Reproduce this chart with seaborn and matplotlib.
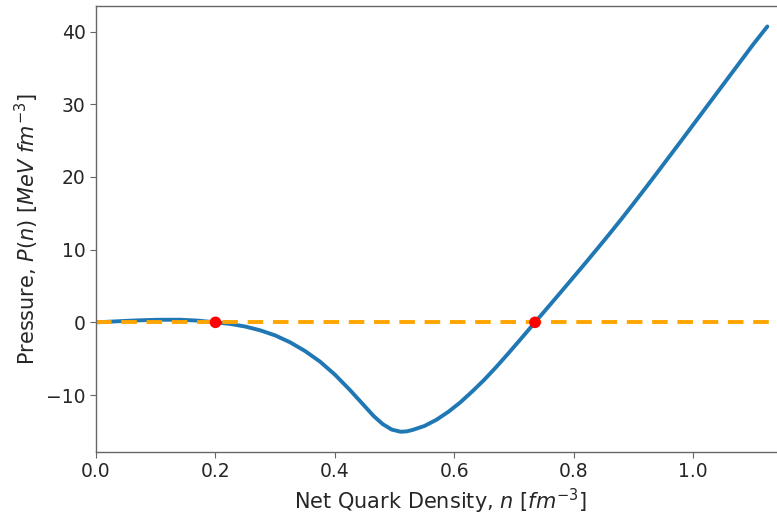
import matplotlib
matplotlib.use('Agg')
import matplotlib.pyplot as plt
import seaborn as sns
import pandas as pd

# values
n = [0.0, 0.03, 0.06, 0.10, 0.14, 0.17, 0.20, 0.225, 0.25, 0.275, 0.30, 0.325,
     0.35, 0.375, 0.40, 0.425, 0.45, 0.465, 0.48, 0.495, 0.51, 0.52, 0.53, 0.55,
     0.57, 0.59, 0.61, 0.63, 0.65, 0.67, 0.69, 0.71, 0.735, 0.76, 0.78, 0.80,
     0.82, 0.84, 0.86, 0.88, 0.90, 0.92, 0.94, 0.96, 0.98, 1.00, 1.02, 1.04,
     1.06, 1.08, 1.10, 1.124]
P = [0.0, 0.12, 0.24, 0.35, 0.36, 0.24, 0.0, -0.22, -0.58, -1.1, -1.8, -2.75,
     -3.95, -5.4, -7.2, -9.3, -11.55, -12.9, -14.0, -14.75, -15.05, -15.0, -14.8, -14.25,
     -13.4, -12.3, -11.0, -9.5, -7.9, -6.15, -4.3, -2.4, 0.0, 2.4, 4.33, 6.27,
     8.22, 10.2, 12.2, 14.25, 16.35, 18.48, 20.64, 22.82, 25.0, 27.2, 29.4, 31.6,
     33.8, 36.0, 38.2, 40.7]
roots_n = [0.2, 0.735]
roots_P = [0.0, 0.0]

df = pd.DataFrame({'n': n, 'P': P})
roots = pd.DataFrame({'n': roots_n, 'P': roots_P})

sns.set_style('white')
plt.rcParams['font.family'] = ['DejaVu Sans']

fig = plt.figure(figsize=(7.77, 5.16), dpi=100)
ax = fig.add_axes([0.1236, 0.124, 0.8855, 0.864])

sns.lineplot(data=df, x='n', y='P', ax=ax, color='#1f77b4', linewidth=2.8, sort=False)
ax.axhline(0, color='orange', linestyle='--', linewidth=2.8, dashes=(4, 2.5))
sns.scatterplot(data=roots, x='n', y='P', ax=ax, color='red', s=70, edgecolor='none', zorder=5)

ax.set_xlim(0, 1.152)
ax.set_xticks([0.0, 0.2, 0.4, 0.6, 0.8, 1.0])
ax.set_yticks([-10, 0, 10, 20, 30, 40])
ax.set_xlabel(r'Net Quark Density, $n$ $[fm^{-3}]$', fontsize=15)
ax.set_ylabel(r'Pressure, $P(n)$ $[MeV\ fm^{-3}]$', fontsize=15)
ax.tick_params(labelsize=13.5, length=4, color='0.4', left=True, bottom=True)
for s in ax.spines.values():
    s.set_color('0.4')
    s.set_linewidth(1.0)

fig.savefig('out.png', dpi=100)
